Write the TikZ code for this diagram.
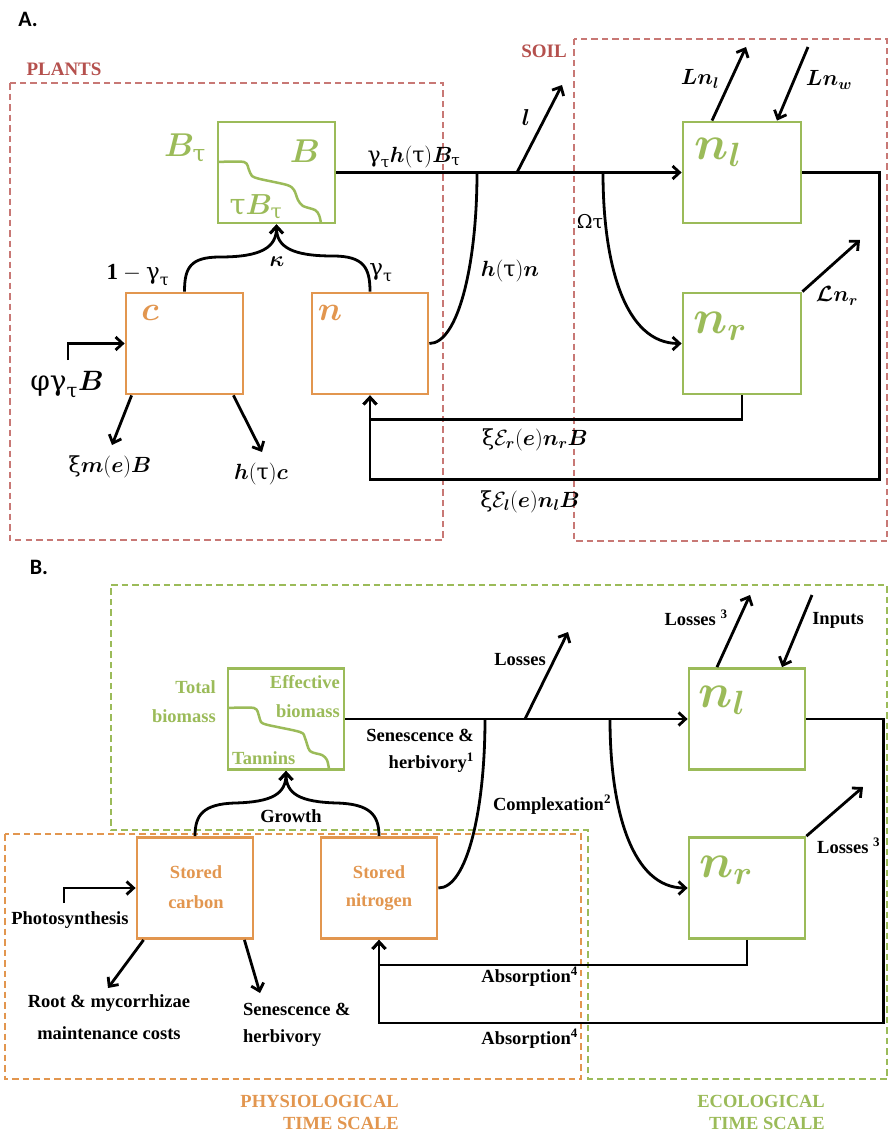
\RequirePackage{fix-cm}
\documentclass[tikz,border=0pt]{standalone}
\usepackage{amsmath,bm}
\usepackage{fontspec}
\setmainfont{Liberation Serif}
\newfontfamily\calib{Carlito}
\newfontfamily\grk{DejaVu Serif}
\usetikzlibrary{arrows.meta,calc}
\definecolor{gr}{HTML}{9BBB59}
\definecolor{orng}{HTML}{E2964F}
\definecolor{plred}{HTML}{B5504D}
\definecolor{dashred}{HTML}{C87875}
\newcommand{\gG}{\text{\grk γ}}
\newcommand{\tT}{\text{\grk τ}}
\newcommand{\xG}{\text{\grk ξ}}
\newcommand{\pG}{\text{\grk φ}}
\newcommand{\oG}{\text{\grk Ω}}
\tikzset{
  box/.style={draw, line width=2.8pt, minimum width=116pt, minimum height=101pt, inner sep=0pt},
  gbox/.style={box, draw=gr},
  obox/.style={box, draw=orng},
  flow/.style={line width=2.8pt, draw=black},
  arr/.style={flow, -{Straight Barb[length=7pt,width=13pt]}},
  wavy/.style={draw=gr, line width=2.5pt},
  regdash/.style={line width=1.1pt, dash pattern=on 6.5pt off 4pt},
  hdr/.style={inner sep=0pt, font=\calib\bfseries\fontsize{22}{24}\selectfont},
  region/.style={inner sep=0pt, font=\bfseries\fontsize{19}{22}\selectfont},
  btxt/.style={inner sep=0pt, font=\bfseries\fontsize{18.5}{22}\selectfont},
  mth/.style={inner sep=0pt, font=\fontsize{22}{26}\selectfont},
  bigm/.style={inner sep=0pt, font=\fontsize{33}{36}\selectfont, text=gr},
  boxm/.style={inner sep=0pt, font=\fontsize{48}{52}\selectfont, text=gr},
  orm/.style={inner sep=0pt, font=\fontsize{34}{38}\selectfont, text=orng}
}
\begin{document}
\begin{tikzpicture}[x=1pt,y=-1pt]
\path[use as bounding box, fill=white] (0,0) rectangle (888,1132);

%% ================= PANEL A =================
\draw[regdash, draw=dashred] (10,83) rectangle (443,540);
\draw[regdash, draw=dashred] (574,39) rectangle (887,541);
\node[hdr] (lblA) at (28,19) {A.};
\node[region, text=plred] (plants) at (64,69) {PLANTS};
\node[region, text=plred] (soil) at (544,51) {SOIL};

\node[gbox, minimum width=117pt] (Bbox) at (276.5,172.5) {};
\node[obox, minimum width=117pt] (cbox) at (184.5,343.5) {};
\node[obox] (nbox) at (370,343.5) {};
\node[gbox, minimum width=118pt] (nlbox) at (742,172.5) {};
\node[gbox, minimum width=118pt] (nrbox) at (742,343.5) {};

\draw[wavy] plot[smooth, tension=0.5] coordinates {(218,162) (244,162) (249,170) (252,176) (260,179) (287,185) (294,190) (298,200) (303,206) (315,210) (319,215) (321,223)};

\node[bigm] (BtauL) at (185,148) {$\bm{B}_{\tT}$};
\node[bigm] (BinL) at (305,151) {$\bm{B}$};
\node[bigm, font=\fontsize{29}{32}\selectfont] (tauB) at (256,207) {$\tT\bm{B}_{\tT}$};
\node[mth] (outB) at (414,157) {$\gG_{\tT}\bm{h}(\tT)\bm{B}_{\tT}$};
\node[mth] (kap) at (277,262) {$\bm{\kappa}$};
\node[mth, font=\fontsize{23}{26}\selectfont] (onemg) at (138,275) {$\mathbf{1}-\gG_{\tT}$};
\node[mth, font=\fontsize{23}{26}\selectfont] (gt) at (381,273) {$\gG_{\tT}$};
\node[orm] (clab) at (150,313) {$\bm{c}$};
\node[orm] (nlab) at (330,313) {$\bm{n}$};
\node[mth, font=\fontsize{28}{30}\selectfont] (phot) at (67,385) {$\pG\gG_{\tT}\bm{B}$};
\node[mth] (xm) at (110,467) {$\xG\bm{m}(\bm{e})\bm{B}$};
\node[mth] (htc) at (261,474) {$\bm{h}(\tT)\bm{c}$};
\node[mth, font=\fontsize{23}{26}\selectfont] (llab) at (526,118) {$\bm{l}$};
\node[mth] (htn) at (510,271) {$\bm{h}(\tT)\bm{n}$};
\node[mth, font=\fontsize{19}{22}\selectfont] (omt) at (590,222) {$\oG\tT$};
\node[mth] (lnllab) at (700,79) {$\bm{L}\bm{n}_{\bm{l}}$};
\node[mth] (lnwlab) at (829,80) {$\bm{L}\bm{n}_{\bm{w}}$};
\node[mth] (lnrlab) at (837,296) {$\bm{\mathcal{L}}\bm{n}_{\bm{r}}$};
\node[boxm] (nllab) at (718,152) {$\bm{n}_{\bm{l}}$};
\node[boxm] (nrlab) at (720,326) {$\bm{n}_{\bm{r}}$};
\node[mth] (xer) at (535,440) {$\xG\mathcal{E}_{\bm{r}}(\bm{e})\bm{n}_{\bm{r}}\bm{B}$};
\node[mth] (xel) at (530,502) {$\xG\mathcal{E}_{\bm{l}}(\bm{e})\bm{n}_{\bm{l}}\bm{B}$};

% connectors A
\draw[arr] (Bbox.east) -- (nlbox.west);
\coordinate (jl) at (517,172.5);
\coordinate (lout) at (562,85);
\draw[arr] (jl) -- (lout);
\coordinate (jh) at (477,172.5);
\draw[flow] (nbox.east) .. controls (458,343.5) and (477,265) .. (jh);
\coordinate (jo) at (603,172.5);
\draw[arr] (jo) .. controls (603,265) and (625,343.5) .. (nrbox.west);
\draw[arr] (cbox.north) .. controls (184.5,268) and (190,257) .. (220,257) .. controls (262,257) and (276.5,247) .. (Bbox.south);
\draw[arr] (nbox.north) .. controls (370,268) and (364,256) .. (333,256) .. controls (292,256) and (276.5,247) .. (Bbox.south);
\coordinate (phin) at (68,360);
\draw[arr] (phin) |- (cbox.west);
\coordinate (cm) at (112,445);
\coordinate (ch) at (262,452);
\draw[arr] ($(cbox.south west)+(7,0)$) -- (cm);
\draw[arr] ($(cbox.south east)+(-11,0)$) -- (ch);
\draw[arr] (nrbox.south) -- ++(0,24) -| (nbox.south);
\draw[arr] (nlbox.east) -- ++(77,0) |- ($(nbox.south)+(0,84)$) -- (nbox.south);
\coordinate (lnl) at (746,47);
\coordinate (lnw) at (808,47);
\coordinate (lnr) at (860,240);
\draw[arr] ($(nlbox.north)+(-30,0)$) -- (lnl);
\draw[arr] (lnw) -- ($(nlbox.north)+(35,0)$);
\draw[arr] (nrbox.north east) -- (lnr);

%% ================= PANEL B =================
\draw[regdash, draw=gr] (111,585) -- (887,585) -- (887,1079) -- (588,1079) -- (588,830) -- (111,830) -- cycle;
\draw[regdash, draw=orng] (5,834) rectangle (581,1079);
\node[hdr] (lblB) at (39,567) {B.};

\node[gbox] (Effbox) at (286,719) {};
\node[obox] (SCbox) at (195,888) {};
\node[obox] (SNbox) at (379,888) {};
\node[gbox] (nlB) at (747,719) {};
\node[gbox] (nrB) at (747,888) {};

\draw[wavy] plot[smooth, tension=0.5] coordinates {(228,708) (254,708) (259,716) (261,722) (268,725) (300,732) (305,738) (310,751) (322,755) (327,760) (329,769)};

\node[btxt, text=gr, anchor=east] (tot1) at (216,687) {Total};
\node[btxt, text=gr, anchor=east] (tot2) at (216,716) {biomass};
\node[btxt, text=gr, anchor=east] (eff1) at (340,682) {Effective};
\node[btxt, text=gr, anchor=east] (eff2) at (340,711) {biomass};
\node[btxt, text=gr, anchor=west] (tan) at (232,758) {Tannins};
\node[btxt] (grow) at (291,816) {Growth};
\node[btxt, anchor=east] (sen1) at (474,735) {Senescence \&};
\node[btxt, anchor=east] (sen2) at (474,763) {herbivory\textsuperscript{1}};
\node[btxt] (loss1) at (520,660) {Losses};
\node[btxt] (loss2) at (696,618) {Losses \textsuperscript{3}};
\node[btxt] (inp) at (838,620) {Inputs};
\node[btxt] (cplx) at (552,805) {Complexation\textsuperscript{2}};
\node[btxt, anchor=west] (loss3) at (817,846) {Losses \textsuperscript{3}};
\node[btxt, text=orng] (sc1) at (196,872) {Stored};
\node[btxt, text=orng] (sc2) at (196,902) {carbon};
\node[btxt, text=orng] (sn1) at (379,872) {Stored};
\node[btxt, text=orng] (sn2) at (379,902) {nitrogen};
\node[btxt] (photo) at (70,920) {Photosynthesis};
\node[btxt] (root1) at (109,1003) {Root \& mycorrhizae};
\node[btxt] (root2) at (109,1033) {maintenance costs};
\node[btxt, anchor=west] (sb1) at (243,1009) {Senescence \&};
\node[btxt, anchor=west] (sb2) at (243,1038) {herbivory};
\node[btxt, anchor=east] (abs1) at (578,977) {Absorption\textsuperscript{4}};
\node[btxt, anchor=east] (abs2) at (578,1039) {Absorption\textsuperscript{4}};
\node[btxt, text=orng, anchor=east] (phys1) at (399,1101) {PHYSIOLOGICAL};
\node[btxt, text=orng, anchor=east] (phys2) at (399,1123) {TIME SCALE};
\node[btxt, text=gr, anchor=east] (eco1) at (825,1101) {ECOLOGICAL};
\node[btxt, text=gr, anchor=east] (eco2) at (825,1123) {TIME SCALE};
\node[boxm] (nlBlab) at (722,700) {$\bm{n}_{\bm{l}}$};
\node[boxm] (nrBlab) at (726,870) {$\bm{n}_{\bm{r}}$};

% connectors B
\draw[arr] (Effbox.east) -- (nlB.west);
\coordinate (jbl) at (525,719);
\coordinate (bloss) at (568,632);
\draw[arr] (jbl) -- (bloss);
\coordinate (jbh) at (485,719);
\draw[flow] (SNbox.east) .. controls (467,888) and (485,810) .. (jbh);
\coordinate (jbo) at (610,719);
\draw[arr] (jbo) .. controls (610,810) and (632,888) .. (nrB.west);
\draw[arr] (SCbox.north) .. controls (195,815) and (203,804) .. (235,803) .. controls (272,802) and (286,794) .. (Effbox.south);
\draw[arr] (SNbox.north) .. controls (379,815) and (370,804) .. (337,803) .. controls (300,802) and (286,794) .. (Effbox.south);
\coordinate (phB) at (64,903);
\draw[arr] (phB) |- (SCbox.west);
\coordinate (rootend) at (108,988);
\coordinate (senend) at (260,993);
\draw[arr] ($(SCbox.south west)+(8,0)$) -- (rootend);
\draw[arr] ($(SCbox.south east)+(-10,0)$) -- (senend);
\draw[arr] (nrB.south) -- ++(0,25) -| (SNbox.south);
\draw[arr] (nlB.east) -- ++(77,0) |- ($(SNbox.south)+(0,83)$) -- (SNbox.south);
\coordinate (bl1) at (750,595);
\coordinate (bin) at (812,595);
\coordinate (bl3) at (863,787);
\draw[arr] ($(nlB.north)+(-30,0)$) -- (bl1);
\draw[arr] (bin) -- ($(nlB.north)+(35,0)$);
\draw[arr] (nrB.north east) -- (bl3);
\end{tikzpicture}
\end{document}
